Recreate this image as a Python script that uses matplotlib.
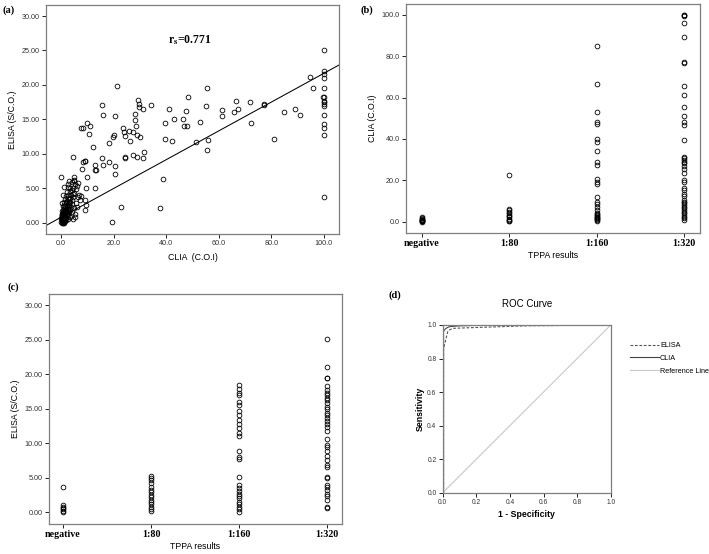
import numpy as np
import matplotlib.pyplot as plt

plt.rcParams['font.family'] = ['Liberation Sans', 'DejaVu Sans']

# ---- panel (a): CLIA vs ELISA ----
clia_a = [100, 100, 100, 100, 100, 100, 100, 100, 100, 100, 100, 100, 100, 100, 100, 99.5,
          94.6, 96.0, 89.0, 90.9, 84.7, 80.9, 77.1, 77.2, 71.9, 72.4, 66.5, 67.4, 65.9, 61.1, 61.3,
          55.5, 55.2, 56.1, 55.6, 53.0, 51.4, 48.4, 47.4, 46.5, 46.8, 48.0, 41.2, 43.0, 42.4, 39.4,
          39.6, 38.7, 37.8, 34.4, 31.2, 29.2, 29.5, 29.7, 28.3, 28.3, 28.7, 30.2, 28.9, 27.3, 25.8,
          23.5, 23.9, 24.5, 26.2, 27.5, 28.9, 31.1, 31.6, 24.3, 24.4, 20.0, 19.7, 18.1, 21.4, 20.5,
          20.5, 20.7, 18.2, 15.6, 15.8, 15.6, 16.0, 13.1, 13.0, 13.3, 12.8, 12.3, 22.8, 19.3, 9.7,
          10.9, 8.2, 7.5, 10.5, 9.0, 9.2, 8.5, 9.9, 9.5, 7.8, 4.6, 0.1, 4.9, 4.9, 9.2, 9.4, 9.2, 5.3,
          # dense cluster near the origin
          0.1, 0.2, 0.3, 0.4, 0.5, 0.6, 0.7, 0.8, 0.9, 1.0, 1.1, 1.2, 1.3, 0.2, 0.4, 0.6, 0.8, 1.0,
          1.4, 1.5, 0.3, 0.5, 0.7, 0.9, 1.2, 1.6, 1.8, 2.0, 0.1, 0.3,
          1.6, 1.8, 2.0, 2.1, 2.3, 2.4, 2.5, 2.6, 2.8, 2.9, 3.0, 3.1, 3.2, 3.3, 3.4, 3.5, 3.6, 3.7,
          3.8, 4.0, 4.1, 4.2, 4.3, 4.5, 4.6, 4.8, 5.0, 5.2, 1.9, 2.2, 2.7, 1.3, 1.1, 0.9, 0.5, 1.5,
          5.4, 5.8, 6.1, 6.4, 6.8, 7.2, 7.6, 5.6, 6.0, 5.1, 6.6, 0.6, 1.2, 2.5, 3.0, 4.0, 1.7, 2.8,
          3.5, 4.4,
          0.2, 0.4, 0.6, 0.8, 1.0, 1.2, 1.4, 1.6, 1.8, 2.0, 2.2, 2.4, 2.6, 2.8, 3.0, 3.2, 1.0, 0.7,
          0.3, 1.5, 2.0, 2.5, 3.6, 4.4]
elisa_a = [25.1, 22.0, 21.6, 21.0, 19.5, 18.2, 17.7, 17.5, 17.2, 17.0, 15.6, 14.3, 13.8, 12.8, 3.7, 18.2,
           21.2, 19.5, 16.5, 15.7, 16.1, 12.1, 17.3, 17.1, 17.5, 14.5, 17.7, 16.5, 16.1, 16.4, 15.5,
           19.6, 17.0, 12.0, 10.6, 14.6, 11.7, 18.3, 16.2, 15.0, 14.0, 14.0, 16.5, 15.1, 11.8, 14.5,
           12.2, 6.4, 2.1, 17.1, 16.5, 17.8, 17.2, 16.8, 15.8, 14.9, 14.0, 12.4, 12.7, 13.2, 13.3,
           13.8, 13.2, 12.6, 11.8, 9.9, 9.6, 9.4, 10.3, 9.6, 9.4, 12.7, 12.4, 11.6, 19.9, 15.5,
           8.2, 7.1, 8.8, 17.1, 15.6, 9.4, 8.4, 8.4, 7.7, 7.6, 5.0, 11.0, 2.3, 0.1, 14.5,
           14.0, 13.8, 13.7, 12.9, 8.9, 8.9, 8.8, 6.7, 5.1, 7.8, 9.5, 6.7, 6.7, 6.1, 3.3, 2.6, 1.8, 0.8,
           0.1, 0.3, 0.0, 0.5, 0.2, 0.8, 0.4, 1.0, 0.6, 0.1, 1.2, 0.7, 0.3, 0.9, 1.3, 1.6, 0.0, 1.5,
           1.0, 0.5, 0.6, 1.1, 1.9, 0.3, 0.0, 1.4, 0.9, 0.4, 0.7, 1.7,
           2.2, 2.8, 1.7, 3.2, 2.4, 1.2, 3.6, 2.0, 4.1, 2.9, 1.5, 3.4, 2.6, 4.6, 1.9, 3.0, 5.1, 2.3,
           4.0, 3.3, 1.6, 4.8, 2.7, 5.0, 3.7, 2.1, 4.3, 1.3, 3.9, 4.4, 5.2, 2.5, 3.0, 2.4, 2.9, 3.5,
           5.6, 4.9, 5.3, 3.8, 4.1, 3.3, 3.9, 2.8, 2.3, 6.2, 5.8, 4.0, 5.2, 5.6, 6.0, 5.9, 0.2, 0.6,
           0.9, 0.5,
           0.4, 0.2, 0.1, 0.6, 0.9, 1.3, 1.7, 0.8, 1.5, 2.0, 1.1, 2.6, 1.6, 2.2, 2.5, 3.0, 2.0, 1.4,
           1.1, 2.4, 3.0, 1.0, 3.6, 4.2]
fit_intercept = 0.79
fit_slope = 0.209

# ---- panels (b) and (c): by TPPA titre ----
tppa_groups = ['negative', '1:80', '1:160', '1:320']

clia_by_group = [
    [0.0, 0.3, 0.6, 0.8, 1.0, 1.4, 1.8, 2.2, 0.2, 0.5],
    [22.6, 6.3, 5.5, 4.8, 4.0, 3.3, 2.7, 2.1, 1.5, 1.0, 0.5, 0.1],
    [85.0, 66.6, 53.2, 48.4, 47.3, 39.9, 38.7, 34.4, 28.7, 27.4, 20.5, 19.4, 18.2, 12.1, 9.7,
     8.6, 7.3, 5.7, 4.4, 3.8, 3.2, 2.8, 2.4, 2.0, 1.6, 1.2, 0.8, 0.4],
    [100, 100, 99.7, 96.3, 89.2, 76.9, 77.1, 65.6, 61.3, 55.6, 51.3, 48.1, 46.8, 39.5, 31.4,
     30.7, 29.9, 29.0, 28.2, 27.1, 25.5, 23.7, 20.2, 19.4, 16.2, 15.3, 13.4, 12.6, 10.5, 9.7,
     8.9, 8.1, 7.3, 6.5, 5.7, 4.8, 4.1, 3.2, 2.4, 1.6, 0.8],
]

elisa_by_group = [
    [3.6, 1.0, 0.8, 0.6, 0.4, 0.2, 0.0],
    [5.3, 5.0, 4.6, 4.2, 3.6, 3.2, 2.9, 2.5, 2.2, 1.8, 1.5, 1.2, 0.8, 0.5, 0.2],
    [18.4, 17.9, 17.3, 17.0, 16.0, 15.5, 14.7, 14.1, 13.3, 12.8, 12.2, 11.5, 11.0, 8.9, 8.0,
     7.7, 5.1, 3.9, 3.5, 3.1, 2.7, 2.4, 2.0, 1.5, 1.2, 0.8, 0.4, 0.1],
    [25.1, 21.0, 19.5, 19.4, 18.3, 17.7, 17.2, 17.0, 16.6, 16.3, 15.8, 15.3, 14.9, 14.4, 14.1,
     13.6, 13.2, 12.8, 12.4, 11.7, 10.6, 9.7, 9.5, 8.8, 8.1, 7.6, 6.8, 6.5, 5.1, 5.0, 4.0, 3.7,
     3.2, 2.7, 2.3, 1.8, 0.8, 0.6],
]

# ---- panel (d): ROC curves ----
elisa_fpr = [0.0, 0.005, 0.005, 0.01, 0.02, 0.03, 0.04, 0.06, 0.2, 0.5, 1.0]
elisa_tpr = [0.0, 0.0, 0.85, 0.88, 0.92, 0.96, 0.97, 0.98, 0.985, 0.995, 1.0]
clia_fpr = [0.0, 0.005, 0.005, 0.01, 0.02, 0.04, 0.1, 0.3, 1.0]
clia_tpr = [0.0, 0.0, 0.96, 0.97, 0.98, 0.99, 0.995, 1.0, 1.0]

fig = plt.figure(figsize=(7.09, 5.54), dpi=100)

tick_fs = 5.2
lab_fs = 6.3
frame_col = '#7f7f7f'


def spss_axes(ax):
    for s in ax.spines.values():
        s.set_color(frame_col)
        s.set_linewidth(0.9)
    ax.tick_params(direction='out', length=3, width=0.6, labelsize=tick_fs,
                   colors='black', labelcolor='#333333', pad=1.5)


def circles(ax, x, y):
    ax.plot(x, y, 'o', mfc='none', mec='black', ms=3.4, mew=0.6, linestyle='none')


# (a)
ax1 = fig.add_axes([0.0649, 0.578, 0.4131, 0.413])
circles(ax1, clia_a, elisa_a)
xl = np.array([-5.7, 105.7])
ax1.plot(xl, fit_intercept + fit_slope * xl, color='black', lw=0.75)
ax1.set_xlim(-5.7, 105.7)
ax1.set_ylim(-1.6, 31.6)
ax1.set_xticks([0, 20, 40, 60, 80, 100])
ax1.set_xticklabels(['0.0', '20.0', '40.0', '60.0', '80.0', '100.0'])
ax1.set_yticks([0, 5, 10, 15, 20, 25, 30])
ax1.set_yticklabels(['0.00', '5.00', '10.00', '15.00', '20.00', '25.00', '30.00'])
ax1.set_xlabel('CLIA  (C.O.I)', fontsize=lab_fs, labelpad=4)
ax1.set_ylabel('ELISA (S/C.O.)', fontsize=lab_fs, labelpad=3)
ax1.text(49, 26.5, r'$\mathbf{r_{s}}$=0.771', fontsize=8.5, fontweight='bold',
         family='Liberation Serif', math_fontfamily='stix', ha='center', va='center')
spss_axes(ax1)

# (b)
ax2 = fig.add_axes([0.5726, 0.5794, 0.4147, 0.4134])
for i, vals in enumerate(clia_by_group):
    circles(ax2, [i] * len(vals), vals)
ax2.set_xlim(-0.18, 3.18)
ax2.set_ylim(-5.5, 105.3)
ax2.set_yticks([0, 20, 40, 60, 80, 100])
ax2.set_yticklabels(['0.0', '20.0', '40.0', '60.0', '80.0', '100.0'])
ax2.set_xticks(range(4))
ax2.set_xticklabels(tppa_groups, fontsize=7.2, fontweight='bold', family='Liberation Serif')
ax2.set_xlabel('TPPA results', fontsize=lab_fs, labelpad=2)
ax2.set_ylabel('CLIA (C.O.I)', fontsize=lab_fs, labelpad=3)
spss_axes(ax2)
for t in ax2.get_xticklabels():
    t.set_fontsize(7.2)
    t.set_color('black')

# (c)
ax3 = fig.add_axes([0.0691, 0.0542, 0.4133, 0.4151])
for i, vals in enumerate(elisa_by_group):
    circles(ax3, [i] * len(vals), vals)
ax3.set_xlim(-0.16, 3.17)
ax3.set_ylim(-1.7, 31.6)
ax3.set_yticks([0, 5, 10, 15, 20, 25, 30])
ax3.set_yticklabels(['0.00', '5.00', '10.00', '15.00', '20.00', '25.00', '30.00'])
ax3.set_xticks(range(4))
ax3.set_xticklabels(tppa_groups, fontsize=7.2, fontweight='bold', family='Liberation Serif')
ax3.set_xlabel('TPPA results', fontsize=lab_fs, labelpad=2)
ax3.set_ylabel('ELISA (S/C.O.)', fontsize=lab_fs, labelpad=3)
spss_axes(ax3)
for t in ax3.get_xticklabels():
    t.set_fontsize(7.2)
    t.set_color('black')

# (d)
ax4 = fig.add_axes([0.6244, 0.1106, 0.237, 0.3028])
ax4.plot(elisa_fpr, elisa_tpr, color='#555555', lw=0.8, ls=(0, (2.5, 1.5)), label='ELISA')
ax4.plot(clia_fpr, clia_tpr, color='#444444', lw=0.8, label='CLIA')
ax4.plot([0, 1], [0, 1], color='#c8c8c8', lw=0.8, label='Reference Line')
ax4.set_xlim(0, 1)
ax4.set_ylim(0, 1)
ticks = [0.0, 0.2, 0.4, 0.6, 0.8, 1.0]
ax4.set_xticks(ticks)
ax4.set_yticks(ticks)
ax4.set_xticklabels([f'{t:.1f}' for t in ticks])
ax4.set_yticklabels([f'{t:.1f}' for t in ticks])
ax4.set_xlabel('1 - Specificity', fontsize=6.3, fontweight='bold', labelpad=3)
ax4.set_ylabel('Sensitivity', fontsize=6.3, fontweight='bold', labelpad=2)
ax4.set_title('ROC Curve', fontsize=7, pad=13)
spss_axes(ax4)
ax4.tick_params(labelsize=4.8)
ax4.legend(loc='upper left', bbox_to_anchor=(1.1, 0.915), frameon=False, fontsize=5.2,
           handlelength=4, handletextpad=0.1, labelspacing=0.8, borderaxespad=0)

# panel letters
for lab, x, y in [('(a)', 0.003, 0.99), ('(b)', 0.508, 0.99), ('(c)', 0.01, 0.49), ('(d)', 0.548, 0.476)]:
    fig.text(x, y, lab, fontsize=7.5, fontweight='bold', family='Liberation Serif', va='top')

fig.savefig('out.png', dpi=100)
